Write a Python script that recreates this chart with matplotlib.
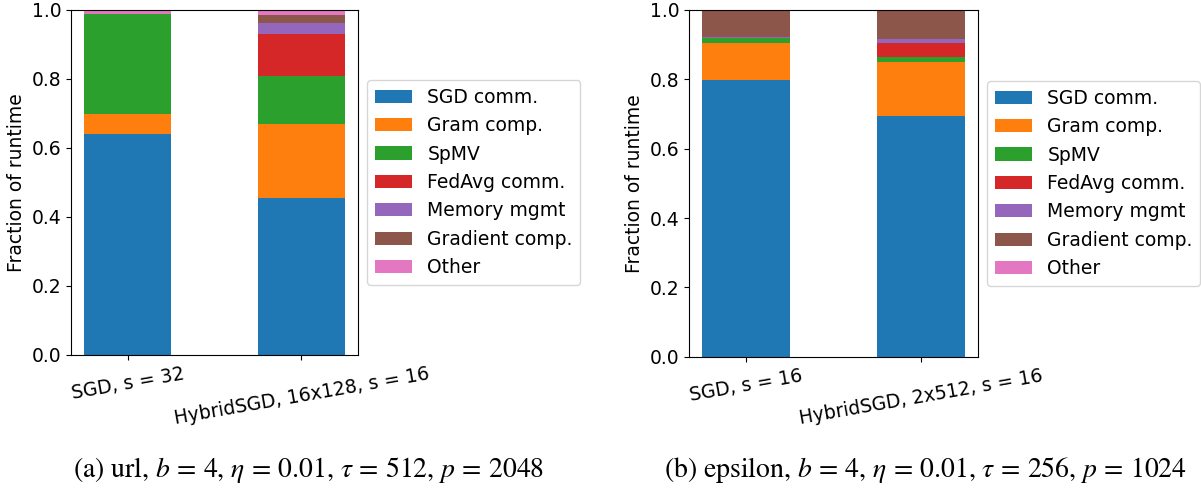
import matplotlib
matplotlib.use("Agg")
import matplotlib.pyplot as plt
import numpy as np

plt.rcParams["font.size"] = 13.5
plt.rcParams["mathtext.fontset"] = "stix"

componentes = ["SGD comm.", "Gram comp.", "SpMV", "FedAvg comm.",
               "Memory mgmt", "Gradient comp.", "Other"]
colores = ["#1f77b4", "#ff7f0e", "#2ca02c", "#d62728",
           "#9467bd", "#8c564b", "#e377c2"]

# (a) url
etiquetas_url = ["SGD, s = 32", "HybridSGD, 16x128, s = 16"]
url_sgd = [0.640, 0.456]
url_gram = [0.058, 0.214]
url_spmv = [0.290, 0.139]
url_fedavg = [0.000, 0.121]
url_mem = [0.000, 0.032]
url_grad = [0.000, 0.024]
url_other = [0.012, 0.014]

# (b) epsilon
etiquetas_eps = ["SGD, s = 16", "HybridSGD, 2x512, s = 16"]
eps_sgd = [0.798, 0.695]
eps_gram = [0.107, 0.155]
eps_spmv = [0.015, 0.014]
eps_fedavg = [0.000, 0.041]
eps_mem = [0.002, 0.011]
eps_grad = [0.078, 0.084]
eps_other = [0.000, 0.000]

titulo_a = r"(a) url, $b\,=\,4$, $\eta\,=\,0.01$, $\tau\,=\,512$, $p\,=\,2048$"
titulo_b = r"(b) epsilon, $b\,=\,4$, $\eta\,=\,0.01$, $\tau\,=\,256$, $p\,=\,1024$"


def dibujar(ax, etiquetas, series):
    x = np.arange(len(etiquetas))
    base = np.zeros(len(etiquetas))
    for nombre, valores, color in zip(componentes, series, colores):
        ax.bar(x, valores, 0.5, bottom=base, color=color, label=nombre)
        base += np.array(valores)
    ax.set_ylim(0, 1)
    ax.set_xticks(x)
    ax.set_xticklabels(etiquetas, rotation=10)
    ax.set_ylabel("Fraction of runtime")
    ax.legend(loc="center left", bbox_to_anchor=(1.0, 0.5))


fig = plt.figure(figsize=(12.01, 4.95), dpi=100)
ax1 = fig.add_axes([0.0591, 0.283, 0.239, 0.697])
ax2 = fig.add_axes([0.5737, 0.279, 0.2406, 0.701])

dibujar(ax1, etiquetas_url, [url_sgd, url_gram, url_spmv, url_fedavg,
                             url_mem, url_grad, url_other])
dibujar(ax2, etiquetas_eps, [eps_sgd, eps_gram, eps_spmv, eps_fedavg,
                             eps_mem, eps_grad, eps_other])

fig.text(0.257, 0.05, titulo_a, ha="center", va="center",
         fontsize=20, family="STIXGeneral")
fig.text(0.771, 0.05, titulo_b, ha="center", va="center",
         fontsize=20, family="STIXGeneral")

plt.savefig("out.png", dpi=100)
